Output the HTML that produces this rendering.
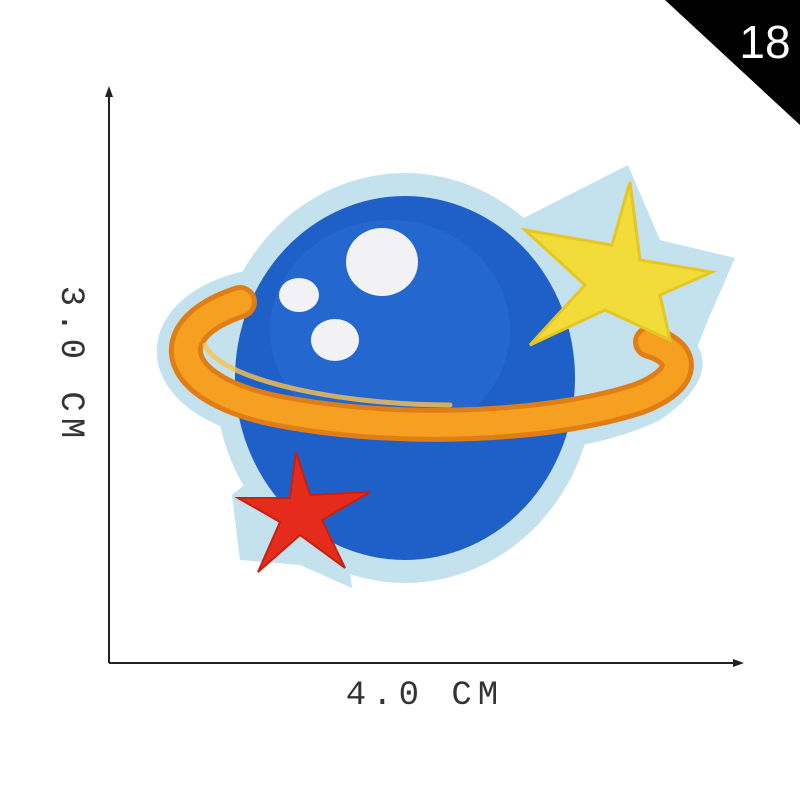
<!DOCTYPE html>
<html><head><meta charset="utf-8"><style>
html,body{margin:0;padding:0;background:#fff;width:800px;height:800px;overflow:hidden}
svg{display:block}
</style></head><body>
<svg width="800" height="800" viewBox="0 0 800 800">
  <rect width="800" height="800" fill="#fff"/>
  <polygon points="665,0 800,0 800,125" fill="#000"/>
  <text x="765" y="58" font-family="Liberation Sans, sans-serif" font-size="46" fill="#fff" text-anchor="middle">18</text>
  <line x1="109" y1="92" x2="109" y2="663" stroke="#222" stroke-width="2"/>
  <polygon points="109,86 105,97 113,97" fill="#222"/>
  <line x1="109" y1="663" x2="738" y2="663" stroke="#222" stroke-width="2"/>
  <polygon points="744,663 733,659 733,667" fill="#222"/>
  <text x="425" y="704" font-family="Liberation Mono, monospace" font-size="34" fill="#333" text-anchor="middle" letter-spacing="6">4.0 CM</text>
  <text transform="translate(62,365) rotate(90)" font-family="Liberation Mono, monospace" font-size="34" fill="#333" text-anchor="middle" letter-spacing="6">3.0 CM</text>
  <g fill="#c4e2ed">
    <ellipse cx="405" cy="378" rx="190" ry="205"/>
    <path d="M250,270 C140,290 120,390 230,430 C340,470 560,470 660,420 C720,380 720,330 640,320 Z"/>
    <polygon points="510,225 628,165 660,240 735,258 708,320 690,365 585,345 515,350"/>
    <polygon points="300,440 345,470 385,490 345,530 352,588 300,565 240,560 232,495"/>
  </g>
  <ellipse cx="405" cy="378" rx="170" ry="182" fill="#1f5fc8"/>
  <ellipse cx="390" cy="330" rx="120" ry="110" fill="#2a6fd6" opacity="0.5"/>
  <g fill="#f2f2f4">
    <ellipse cx="382" cy="262" rx="36" ry="34"/>
    <ellipse cx="299" cy="295" rx="20" ry="17"/>
    <ellipse cx="335" cy="340" rx="24" ry="21"/>
  </g>
  <g fill="none" stroke-linecap="round">
    <path d="M240,302 C155,330 170,392 285,412 C410,435 560,425 640,398 C690,378 685,352 650,342" stroke="#e07e15" stroke-width="34"/>
    <path d="M240,302 C155,330 170,392 285,412 C410,435 560,425 640,398 C690,378 685,352 650,342" stroke="#f5a020" stroke-width="24"/>
    <path d="M205,345 C220,380 340,405 450,405" stroke="#fbc24e" stroke-width="5" opacity="0.8"/>
  </g>
  <polygon points="630,182 612,245 525,230 585,285 530,345 605,310 670,340 660,295 712,272 640,260" fill="#f2dc3a" stroke="#e6c623" stroke-width="3"/>
  <polygon points="296,452 310,495 370,492 322,520 345,568 300,535 258,572 280,522 238,498 290,498" fill="#e52b1c" stroke="#c8200f" stroke-width="2"/>
</svg>
</body></html>
